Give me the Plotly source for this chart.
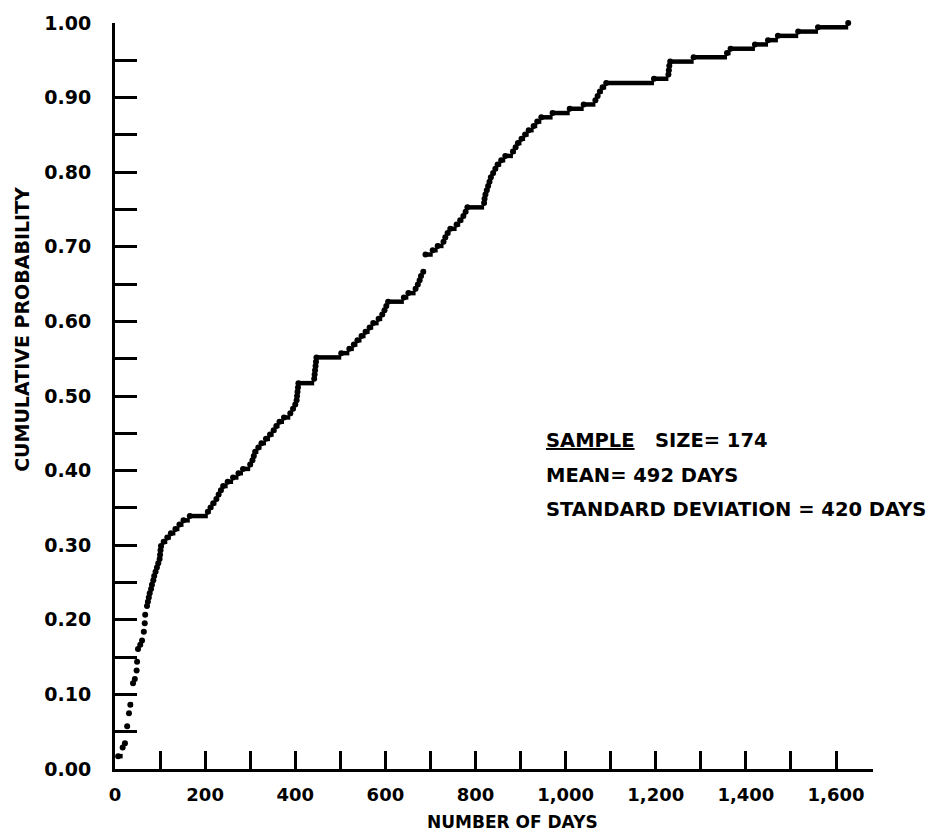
import numpy as np
import plotly.graph_objects as go

days = [
    7, 7, 7, 17, 17, 22, 27, 27, 27, 27,
    31, 31, 31, 34, 34, 40, 40, 40, 40, 40,
    44, 48, 48, 49, 49, 51, 51, 51, 56, 60,
    64, 64, 66, 66, 67, 67, 71, 71, 73, 75,
    77, 80, 82, 85, 87, 90, 93, 96, 99, 100,
    101, 102, 108, 116, 124, 134, 143, 152, 166, 206,
    212, 218, 225, 230, 235, 240, 250, 262, 274, 284,
    300, 305, 308, 311, 318, 325, 335, 344, 352, 358,
    365, 375, 389, 395, 400, 403, 404, 405, 406, 407,
    442, 443, 444, 445, 446, 447, 502, 520, 530, 538,
    547, 556, 565, 573, 585, 593, 598, 602, 606, 641,
    651, 667, 672, 676, 679, 684, 689, 689, 689, 689,
    705, 716, 729, 733, 738, 744, 758, 766, 773, 778,
    782, 819, 820, 822, 825, 828, 831, 834, 839, 844,
    849, 857, 866, 883, 889, 894, 902, 910, 918, 929,
    937, 946, 971, 1009, 1040, 1066, 1071, 1076, 1082, 1090,
    1196, 1228, 1229, 1230, 1232, 1284, 1358, 1366, 1420, 1449,
    1471, 1516, 1560, 1627,
]

x_tickvals = [0, 100, 200, 300, 400, 500, 600, 700, 800, 900, 1000,
              1100, 1200, 1300, 1400, 1500, 1600, 1682]
x_ticktext = ["0", "", "200", "", "400", "", "600", "", "800", "", "1,000",
              "", "1,200", "", "1,400", "", "1,600", ""]
y_tickvals = [0.0, 0.05, 0.10, 0.15, 0.20, 0.25, 0.30, 0.35, 0.40, 0.45, 0.50,
              0.55, 0.60, 0.65, 0.70, 0.75, 0.80, 0.85, 0.90, 0.95, 1.00]
y_ticktext = ["0.00", "", "0.10", "", "0.20", "", "0.30", "", "0.40", "", "0.50",
              "", "0.60", "", "0.70", "", "0.80", "", "0.90", "", "1.00"]

x_title = "NUMBER OF DAYS"
y_title = "CUMULATIVE PROBABILITY"
stats_lines = ["<u>SAMPLE</u>   SIZE= 174", "MEAN= 492 DAYS",
               "STANDARD DEVIATION = 420 DAYS"]

# empirical cumulative distribution
arr = np.array(days, dtype=float)
n = len(arr)
vals, counts = np.unique(arr, return_counts=True)
F = np.cumsum(counts) / n

seg_x, seg_y = [], []
for j in range(len(vals) - 1):
    seg_x += [vals[j], vals[j + 1], None]
    seg_y += [F[j], F[j], None]

FONT = "DejaVu Sans"
fig = go.Figure()
fig.add_trace(go.Scatter(x=seg_x, y=seg_y, mode="lines",
                         line=dict(color="black", width=4.5),
                         hoverinfo="skip", cliponaxis=False, showlegend=False))
fig.add_trace(go.Scatter(x=vals, y=F, mode="markers",
                         marker=dict(color="black", size=6, line=dict(width=0)),
                         cliponaxis=False, showlegend=False))

fig.update_layout(
    width=928, height=836,
    margin=dict(l=115, r=55, t=17, b=67),
    paper_bgcolor="white", plot_bgcolor="white",
    font=dict(family=FONT, color="black"),
    xaxis=dict(range=[0, 1682], tickmode="array", tickvals=x_tickvals,
               ticktext=x_ticktext, ticks="inside", ticklen=18, tickwidth=2.5,
               tickcolor="black", showline=True, linecolor="black", linewidth=3,
               showgrid=False, zeroline=False, ticklabelstandoff=7,
               tickfont=dict(family=FONT, size=18, weight="bold")),
    yaxis=dict(range=[0, 1], tickmode="array", tickvals=y_tickvals,
               ticktext=y_ticktext, ticks="inside", ticklen=22, tickwidth=2.5,
               tickcolor="black", showline=True, linecolor="black", linewidth=3,
               showgrid=False, zeroline=False, ticklabelstandoff=17,
               tickfont=dict(family=FONT, size=19, weight="bold")),
)

fig.add_annotation(text=x_title, xref="paper", yref="paper", x=0.525, y=-0.0705,
                   xanchor="center", yanchor="middle", showarrow=False,
                   font=dict(family=FONT, size=17, weight="bold"))
fig.add_annotation(text=y_title, xref="paper", yref="paper", x=-0.1227, y=0.59,
                   xanchor="center", yanchor="middle", showarrow=False, textangle=-90,
                   font=dict(family=FONT, size=19, weight="bold"))
for i, line in enumerate(stats_lines):
    fig.add_annotation(text=line, xref="paper", yref="paper", x=0.566,
                       y=0.4402 - i * 0.0465, xanchor="left", yanchor="middle",
                       showarrow=False,
                       font=dict(family=FONT, size=19.5, weight="bold"))

fig.write_html("out.html", config={"displayModeBar": False},
               post_script="document.body.style.margin='0';document.body.style.overflow='hidden';")
